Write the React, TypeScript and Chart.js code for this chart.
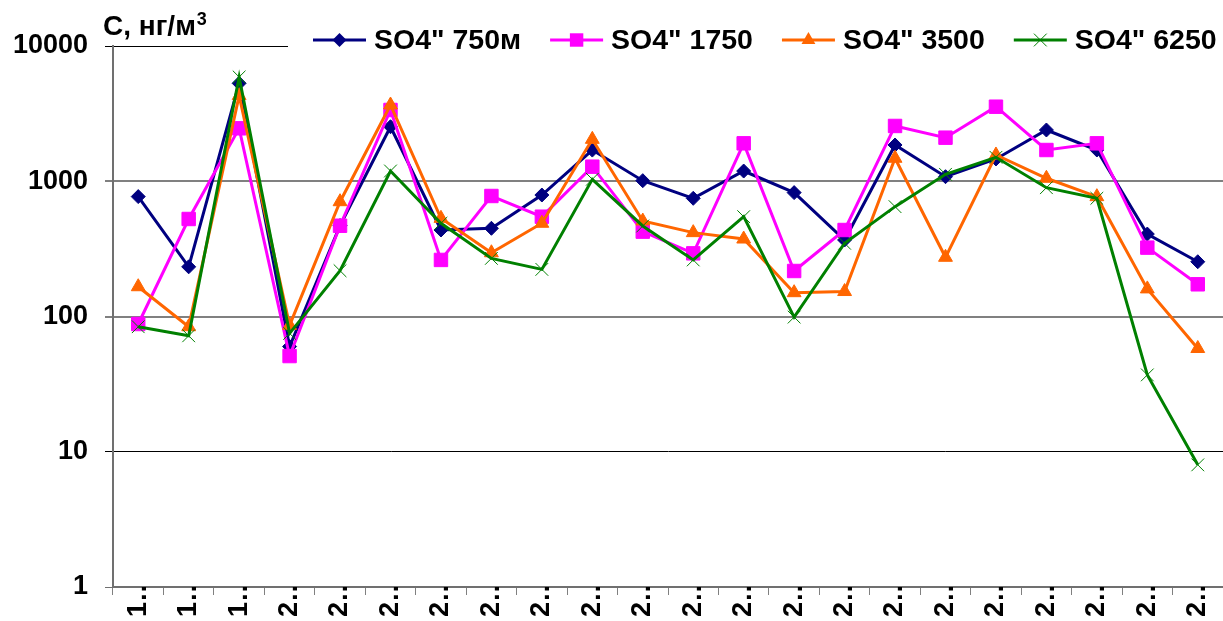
import React, { useEffect, useRef } from 'react';
import { Chart, registerables } from 'chart.js';

Chart.register(...registerables);

// ---------- data ----------
const categories = [
  '1…', '1…', '1…', '2…', '2…', '2…', '2…', '2…', '2…', '2…', '2…',
  '2…', '2…', '2…', '2…', '2…', '2…', '2…', '2…', '2…', '2…', '2…',
];
const yTickValues = [1, 10, 100, 1000, 10000];
const seriesNames = ['SO4" 750м', 'SO4" 1750', 'SO4" 3500', 'SO4" 6250'];
const so4_750 = [770, 233, 5300, 60, 470, 2530, 436, 449, 791, 1700, 1010, 748, 1190, 824, 368, 1854, 1081, 1461, 2393, 1702, 407, 254];
const so4_1750 = [88, 526, 2462, 51, 469, 3365, 262, 778, 547, 1282, 424, 293, 1907, 217, 436, 2563, 2100, 3558, 1702, 1907, 323, 173];
const so4_3500 = [166, 84, 4300, 86, 706, 3663, 532, 296, 489, 2042, 508, 417, 374, 150, 153, 1479, 274, 1564, 1052, 769, 160, 58];
const so4_6250 = [84, 72, 5900, 75, 218, 1191, 489, 269, 223, 1034, 467, 262, 547, 99, 348, 649, 1125, 1503, 896, 748, 37, 8];
const axisTitle = 'С, нг/м';
const axisTitleSup = '3';

const FONT = '"Liberation Sans", Arial, sans-serif';

const styles = [
  { color: '#000080', point: 'rectRot', radius: 7 },
  { color: '#FF00FF', point: 'rect', radius: 9.5 },
  { color: '#FF6600', point: 'triangle', radius: 8 },
  { color: '#008000', point: 'crossRot', radius: 9 },
];

function drawMarker(ctx: CanvasRenderingContext2D, kind: string, x: number, y: number, r: number, color: string) {
  ctx.save();
  ctx.fillStyle = color;
  ctx.strokeStyle = color;
  ctx.lineWidth = 1;
  ctx.beginPath();
  if (kind === 'rectRot') {
    ctx.moveTo(x, y - r);
    ctx.lineTo(x + r, y);
    ctx.lineTo(x, y + r);
    ctx.lineTo(x - r, y);
    ctx.closePath();
    ctx.fill();
  } else if (kind === 'rect') {
    const s = Math.SQRT1_2 * r;
    ctx.rect(x - s, y - s, 2 * s, 2 * s);
    ctx.fill();
  } else if (kind === 'triangle') {
    ctx.moveTo(x, y - r);
    ctx.lineTo(x + r * Math.sin((2 * Math.PI) / 3), y + r / 2);
    ctx.lineTo(x - r * Math.sin((2 * Math.PI) / 3), y + r / 2);
    ctx.closePath();
    ctx.fill();
  } else {
    const d = Math.SQRT1_2 * r;
    ctx.moveTo(x - d, y - d);
    ctx.lineTo(x + d, y + d);
    ctx.moveTo(x + d, y - d);
    ctx.lineTo(x - d, y + d);
    ctx.stroke();
  }
  ctx.restore();
}

const overlayPlugin = {
  id: 'overlay',
  afterDraw(chart: any) {
    const ctx: CanvasRenderingContext2D = chart.ctx;
    ctx.save();
    // legend background (covers top grid line)
    ctx.fillStyle = '#ffffff';
    ctx.fillRect(288, 20, chart.width - 288, 38);

    // legend
    let x = 313;
    const y = 40;
    ctx.font = `bold 28.5px ${FONT}`;
    ctx.textBaseline = 'middle';
    ctx.textAlign = 'left';
    chart.data.datasets.forEach((ds: any, i: number) => {
      const st = styles[i];
      ctx.strokeStyle = st.color;
      ctx.lineWidth = 3;
      ctx.beginPath();
      ctx.moveTo(x, y);
      ctx.lineTo(x + 53, y);
      ctx.stroke();
      drawMarker(ctx, st.point, x + 26.5, y, st.radius, st.color);
      ctx.fillStyle = '#000';
      ctx.fillText(ds.label, x + 61, y + 1);
      x += 61 + ctx.measureText(ds.label).width + 29;
    });

    // axis title
    ctx.fillStyle = '#000';
    ctx.textBaseline = 'alphabetic';
    ctx.font = `bold 28px ${FONT}`;
    ctx.fillText(axisTitle, 103, 35);
    const w = ctx.measureText(axisTitle).width;
    ctx.font = `bold 18px ${FONT}`;
    ctx.fillText(axisTitleSup, 103 + w + 1, 25);
    ctx.restore();
  },
};

export default function App() {
  const ref = useRef<HTMLCanvasElement | null>(null);

  useEffect(() => {
    if (!ref.current) return;
    const seriesData = [so4_750, so4_1750, so4_3500, so4_6250];
    const chart = new Chart(ref.current, {
      type: 'line',
      data: {
        labels: categories,
        datasets: seriesData.map((d, i) => ({
          label: seriesNames[i],
          data: d,
          borderColor: styles[i].color,
          backgroundColor: styles[i].color,
          borderWidth: 3,
          pointStyle: styles[i].point as any,
          pointRadius: styles[i].radius,
          pointBackgroundColor: styles[i].color,
          pointBorderColor: styles[i].color,
          pointBorderWidth: 1,
          tension: 0,
          fill: false,
          order: 4 - i,
        })),
      },
      options: {
        animation: false,
        responsive: false,
        devicePixelRatio: 1,
        layout: { autoPadding: false, padding: { top: 46, left: 0, right: 0, bottom: 0 } },
        plugins: {
          legend: { display: false },
          tooltip: { enabled: false },
          title: { display: false },
        },
        scales: {
          x: {
            type: 'category',
            offset: true,
            grid: {
              offset: true,
              drawOnChartArea: false,
              drawTicks: true,
              tickLength: 8,
              color: '#808080',
              lineWidth: 1,
            },
            border: { display: true, color: '#707070', width: 2 },
            ticks: {
              autoSkip: false,
              minRotation: 90,
              maxRotation: 90,
              padding: -20,
              color: '#000',
              font: { family: FONT, size: 27, weight: 'bold' },
            },
            afterFit: (s: any) => {
              s.height = 34;
              s.paddingLeft = 0;
              s.paddingRight = 0;
            },
          },
          y: {
            type: 'logarithmic',
            min: 1,
            max: 10000,
            afterBuildTicks: (s: any) => {
              s.ticks = yTickValues.map((v) => ({ value: v }));
            },
            ticks: {
              autoSkip: false,
              padding: 17,
              color: '#000',
              font: { family: FONT, size: 27, weight: 'bold' },
              callback: (v: any) => String(v),
            },
            grid: {
              tickLength: 8,
              color: (c: any) => {
                const v = c.tick ? c.tick.value : 0;
                if (v === 1) return 'rgba(0,0,0,0)';
                if (v === 100 || v === 1000) return '#808080';
                return '#000000';
              },
              tickColor: (c: any) => {
                const v = c.tick ? c.tick.value : 0;
                if (v === 100 || v === 1000) return '#808080';
                if (v === 1) return '#707070';
                return '#000000';
              },
              lineWidth: (c: any) => {
                const v = c.tick ? c.tick.value : 0;
                return v === 100 || v === 1000 ? 2 : 1;
              },
            },
            border: { display: true, color: '#707070', width: 2 },
            afterFit: (s: any) => {
              s.width = 113;
            },
          },
        },
      } as any,
      plugins: [overlayPlugin],
    });
    return () => chart.destroy();
  }, []);

  return (
    <div style={{ position: 'absolute', left: 0, top: 0, width: 1223, height: 621, background: '#fff' }}>
      <canvas ref={ref} width={1223} height={621} style={{ display: 'block' }} />
    </div>
  );
}
